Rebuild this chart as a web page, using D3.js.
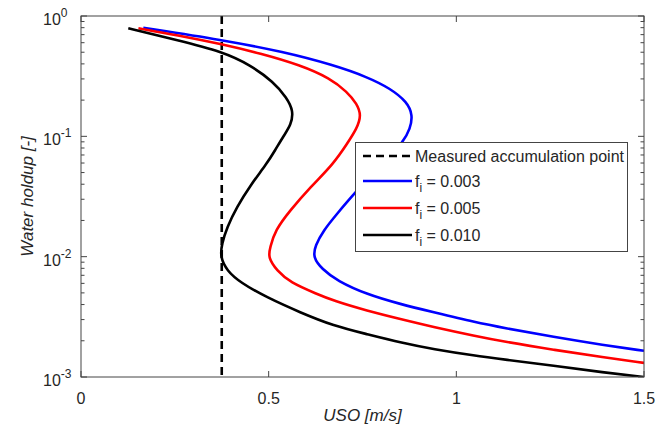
<!DOCTYPE html>
<html>
<head>
<meta charset="utf-8">
<script src="https://cdn.jsdelivr.net/npm/d3@7"></script>
<style>
  html, body { margin: 0; padding: 0; background: #fff; }
  svg { display: block; font-family: "Liberation Sans", Arial, sans-serif; }
</style>
</head>
<body>
<svg id="chart" width="672" height="438"></svg>
<script>
// Superficial oil velocity USO [m/s] vs. water holdup [-] for three interfacial friction factors
const seriesNames = ["f_i = 0.003", "f_i = 0.005", "f_i = 0.010"];
const seriesColors = ["#0000ff", "#ff0000", "#000000"];

const usoF003 = [0.166, 0.378, 0.540, 0.673, 0.762, 0.824, 0.869, 0.884, 0.877, 0.859, 0.811, 0.771, 0.731, 0.682, 0.646, 0.624, 0.618, 0.642, 0.682, 0.762, 0.851, 0.939, 1.051, 1.126, 1.259, 1.393, 1.5];
const holdupF003 = [0.799, 0.631, 0.504, 0.391, 0.312, 0.250, 0.193, 0.1496, 0.116, 0.0896, 0.0631, 0.0464, 0.0343, 0.0227, 0.0165, 0.01236, 0.00987, 0.0079, 0.00631, 0.00485, 0.00403, 0.00346, 0.00285, 0.00256, 0.00215, 0.00184, 0.00165];

const usoF005 = [0.153, 0.255, 0.378, 0.477, 0.584, 0.664, 0.709, 0.735, 0.747, 0.735, 0.709, 0.673, 0.611, 0.557, 0.517, 0.504, 0.498, 0.522, 0.557, 0.629, 0.673, 0.762, 0.851, 0.939, 1.051, 1.126, 1.259, 1.393, 1.5];
const holdupF005 = [0.790, 0.695, 0.581, 0.489, 0.391, 0.303, 0.234, 0.187, 0.1496, 0.116, 0.0869, 0.0592, 0.0378, 0.0242, 0.0165, 0.01195, 0.00987, 0.00764, 0.00611, 0.00489, 0.0043, 0.00355, 0.00303, 0.0026, 0.00219, 0.00197, 0.00168, 0.00146, 0.00131];

const usoF010 = [0.126, 0.255, 0.378, 0.451, 0.513, 0.548, 0.566, 0.560, 0.539, 0.517, 0.495, 0.451, 0.415, 0.389, 0.375, 0.371, 0.389, 0.424, 0.495, 0.584, 0.673, 0.762, 0.851, 0.939, 1.051, 1.126, 1.259, 1.393, 1.5];
const holdupF010 = [0.790, 0.631, 0.504, 0.391, 0.2835, 0.210, 0.163, 0.125, 0.100, 0.0764, 0.0592, 0.0391, 0.0258, 0.01755, 0.01276, 0.00987, 0.00764, 0.00611, 0.00458, 0.00344, 0.00266, 0.00227, 0.00193, 0.0017, 0.0015, 0.0014, 0.00124, 0.00109, 0.0010];

const accumulationPoint = 0.375;
const accumulationLabel = "Measured accumulation point";

const xTicks = [0, 0.5, 1, 1.5];
const yTickExponents = [-3, -2, -1, 0];

const series = [
  { name: seriesNames[0], color: seriesColors[0], x: usoF003, y: holdupF003 },
  { name: seriesNames[1], color: seriesColors[1], x: usoF005, y: holdupF005 },
  { name: seriesNames[2], color: seriesColors[2], x: usoF010, y: holdupF010 }
];

const svg = d3.select("#chart");
const margin = { left: 81, right: 28, top: 16, bottom: 61 };
const W = 672, H = 438;
const x = d3.scaleLinear().domain([0, 1.5]).range([margin.left, W - margin.right]);
const y = d3.scaleLog().domain([1e-3, 1]).range([H - margin.bottom, margin.top]);

const axisColor = "#444";
const textColor = "#262626";

const x0 = x(0), x1 = x(1.5), y0 = y(1e-3), y1 = y(1);

svg.append("defs").append("clipPath").attr("id", "plotClip")
  .append("rect").attr("x", x0).attr("y", y1).attr("width", x1 - x0).attr("height", y0 - y1);

const line = d3.line()
  .x(d => x(d[0]))
  .y(d => y(d[1]))
  .curve(d3.curveBasis);

const plot = svg.append("g").attr("clip-path", "url(#plotClip)");

// dashed vertical line at the measured accumulation point
plot.append("line")
  .attr("x1", x(accumulationPoint)).attr("x2", x(accumulationPoint))
  .attr("y1", y1).attr("y2", y0)
  .attr("stroke", "#000").attr("stroke-width", 2.6)
  .attr("stroke-dasharray", "8,5");

series.forEach(s => {
  plot.append("path")
    .datum(s.x.map((v, i) => [v, s.y[i]]))
    .attr("d", line)
    .attr("fill", "none")
    .attr("stroke", s.color)
    .attr("stroke-width", 2.6)
    .attr("stroke-linejoin", "round");
});

// ticks, inside on all four sides
const tickG = svg.append("g").attr("stroke", axisColor).attr("stroke-width", 1);
const majorLen = 6, minorLen = 3.5;
xTicks.forEach(t => {
  const px = x(t);
  tickG.append("line").attr("x1", px).attr("x2", px).attr("y1", y0).attr("y2", y0 - majorLen);
  tickG.append("line").attr("x1", px).attr("x2", px).attr("y1", y1).attr("y2", y1 + majorLen);
});
yTickExponents.forEach(e => {
  const py = y(Math.pow(10, e));
  tickG.append("line").attr("x1", x0).attr("x2", x0 + majorLen).attr("y1", py).attr("y2", py);
  tickG.append("line").attr("x1", x1).attr("x2", x1 - majorLen).attr("y1", py).attr("y2", py);
  if (e < 0) {
    for (let m = 2; m <= 9; m++) {
      const pm = y(m * Math.pow(10, e));
      tickG.append("line").attr("x1", x0).attr("x2", x0 + minorLen).attr("y1", pm).attr("y2", pm);
      tickG.append("line").attr("x1", x1).attr("x2", x1 - minorLen).attr("y1", pm).attr("y2", pm);
    }
  }
});

// axes box
svg.append("rect")
  .attr("x", x0).attr("y", y1).attr("width", x1 - x0).attr("height", y0 - y1)
  .attr("fill", "none").attr("stroke", axisColor).attr("stroke-width", 1);

// x tick labels
svg.append("g").selectAll("text").data(xTicks).join("text")
  .attr("x", d => x(d)).attr("y", y0 + 27)
  .attr("text-anchor", "middle")
  .attr("font-size", 16).attr("fill", textColor)
  .text(d => d3.format("~g")(d));

// y tick labels: 10^e
const yLab = svg.append("g");
yTickExponents.forEach(e => {
  const py = y(Math.pow(10, e));
  const t = yLab.append("text")
    .attr("x", 43).attr("y", py + 9)
    .attr("font-size", 16).attr("fill", textColor);
  t.append("tspan").text("10");
  t.append("tspan").attr("dy", -8).attr("font-size", 12).text(String(e));
});

// axis titles
svg.append("text")
  .attr("x", (x0 + x1) / 2).attr("y", 421)
  .attr("text-anchor", "middle").attr("font-style", "italic")
  .attr("font-size", 17).attr("fill", textColor)
  .text("USO [m/s]");

svg.append("text")
  .attr("transform", `translate(33,${(y0 + y1) / 2}) rotate(-90)`)
  .attr("text-anchor", "middle").attr("font-style", "italic")
  .attr("font-size", 17).attr("fill", textColor)
  .text("Water holdup [-]");

// legend
const lg = svg.append("g");
lg.append("rect")
  .attr("x", 355.5).attr("y", 142.5).attr("width", 272).attr("height", 109)
  .attr("fill", "#fff").attr("stroke", axisColor).attr("stroke-width", 1);

const legendRows = [
  { label: accumulationLabel, color: "#000", dash: "8,5", sub: false },
  ...series.map(s => ({ label: s.name, color: s.color, dash: null, sub: true }))
];
const rowY = [156, 181, 208, 235];
legendRows.forEach((r, i) => {
  const ly = rowY[i];
  lg.append("line")
    .attr("x1", 363).attr("x2", 412).attr("y1", ly).attr("y2", ly)
    .attr("stroke", r.color).attr("stroke-width", 2.6)
    .attr("stroke-dasharray", r.dash);
  const t = lg.append("text")
    .attr("x", 415).attr("y", ly + 6)
    .attr("font-size", 16).attr("fill", textColor);
  if (r.sub) {
    const parts = r.label.split("_");
    const rest = parts[1].slice(1);
    t.append("tspan").text(parts[0]);
    t.append("tspan").attr("dy", 5).attr("font-size", 12).text(parts[1][0]);
    t.append("tspan").attr("dy", -5).text(rest);
  } else {
    t.text(r.label);
  }
});
</script>
</body>
</html>
